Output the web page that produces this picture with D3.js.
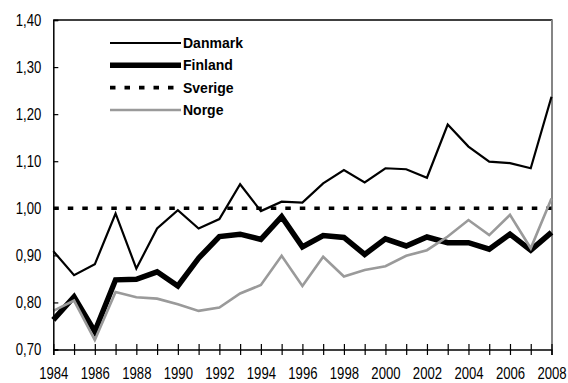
<!DOCTYPE html>
<html>
<head>
<meta charset="utf-8">
<script src="https://cdn.jsdelivr.net/npm/d3@7"></script>
<style>
  html, body { margin: 0; padding: 0; background: #fff; }
  svg { display: block; }
  .tick text { font-family: "Liberation Sans", Arial, sans-serif; font-size: 16px; fill: #000; }
  .legend text { font-family: "Liberation Sans", Arial, sans-serif; font-size: 14px; font-weight: bold; fill: #000; }
</style>
</head>
<body>
<svg id="chart" width="568" height="383"></svg>
<script>
// Index per year, 1984–2008 (Sverige = 1,00)
const years = [1984,1985,1986,1987,1988,1989,1990,1991,1992,1993,1994,1995,1996,1997,1998,1999,2000,2001,2002,2003,2004,2005,2006,2007,2008];
const danmark = [0.909,0.858,0.881,0.989,0.872,0.957,0.996,0.957,0.977,1.051,0.994,1.014,1.012,1.053,1.081,1.055,1.085,1.083,1.065,1.178,1.131,1.099,1.096,1.085,1.237];
const finland = [0.763,0.812,0.738,0.848,0.849,0.865,0.835,0.894,0.940,0.945,0.934,0.982,0.918,0.942,0.938,0.902,0.935,0.920,0.939,0.927,0.927,0.913,0.945,0.911,0.949];
const sverige = years.map(() => 1.00);
const norge   = [0.782,0.804,0.720,0.822,0.811,0.808,0.796,0.782,0.789,0.819,0.837,0.899,0.835,0.897,0.855,0.869,0.877,0.899,0.911,0.940,0.975,0.943,0.986,0.915,1.021];
const yTicks = [0.70,0.80,0.90,1.00,1.10,1.20,1.30,1.40];
const seriesNames = ["Danmark","Finland","Sverige","Norge"];

const svg = d3.select("#chart");
const m = {left: 53.3, right: 551.5, top: 20, bottom: 349.5};
const narrow = 0.82; // horizontal squeeze for the condensed tick labels

const x = d3.scaleLinear().domain([1984, 2008]).range([m.left, m.right]);
const y = d3.scaleLinear().domain([0.70, 1.40]).range([m.bottom, m.top]);

const styles = {
  Danmark: {values: danmark, color: "#000", width: 2.2, dash: null},
  Finland: {values: finland, color: "#000", width: 5.5, dash: null},
  Sverige: {values: sverige, color: "#000", width: 3.6, dash: "5.5,9"},
  Norge:   {values: norge,   color: "#9a9a9a", width: 2.6, dash: null}
};

// plot frame: black top, grey right
svg.append("line").attr("x1", m.left).attr("x2", m.right + 1).attr("y1", m.top).attr("y2", m.top)
  .attr("stroke", "#000").attr("stroke-width", 1.5);
svg.append("line").attr("x1", m.right + 0.5).attr("x2", m.right + 0.5).attr("y1", m.top).attr("y2", m.bottom)
  .attr("stroke", "#858585").attr("stroke-width", 2);

const line = d3.line().x((d, i) => x(years[i])).y(d => y(d));

const drawOrder = ["Sverige", "Finland", "Norge", "Danmark"];
drawOrder.forEach(name => {
  const s = styles[name];
  svg.append("path")
    .datum(s.values)
    .attr("d", line)
    .attr("fill", "none")
    .attr("stroke", s.color)
    .attr("stroke-width", s.width)
    .attr("stroke-linejoin", "miter")
    .attr("stroke-dasharray", s.dash);
});

// y axis with inward ticks
const yAxis = d3.axisLeft(y)
  .tickValues(yTicks)
  .tickSize(-5)
  .tickPadding(12)
  .tickFormat(d => d3.format(".2f")(d).replace(".", ","));
const gy = svg.append("g").attr("transform", `translate(${m.left},0)`).call(yAxis);
gy.select(".domain").attr("stroke", "#000").attr("stroke-width", 1.5);
gy.selectAll(".tick line").attr("stroke", "#000").attr("stroke-width", 1.2);
gy.selectAll(".tick text")
  .attr("x", -12 / narrow)
  .attr("transform", `scale(${narrow},1)`);

// x axis with ticks crossing the axis line
const xAxis = d3.axisBottom(x)
  .tickValues(years)
  .tickSize(5.5)
  .tickPadding(13)
  .tickFormat(d => d % 2 === 0 ? String(d) : "");
const gx = svg.append("g").attr("transform", `translate(0,${m.bottom})`).call(xAxis);
gx.select(".domain").attr("stroke", "#000").attr("stroke-width", 1.5);
gx.selectAll(".tick line").attr("y1", -5.5).attr("stroke", "#000").attr("stroke-width", 1.2);
gx.selectAll(".tick text").attr("transform", `scale(${narrow},1)`);

// legend
const legend = svg.append("g").attr("class", "legend");
const legY = d3.scaleLinear().domain([0, 3]).range([43, 110]);
seriesNames.forEach((name, i) => {
  const s = styles[name];
  const yy = legY(i);
  legend.append("line")
    .attr("x1", 110).attr("x2", 181).attr("y1", yy).attr("y2", yy)
    .attr("stroke", s.color).attr("stroke-width", s.width)
    .attr("stroke-dasharray", s.dash);
  legend.append("text")
    .attr("x", 183).attr("y", yy).attr("dy", "0.36em")
    .text(name);
});
</script>
</body>
</html>
